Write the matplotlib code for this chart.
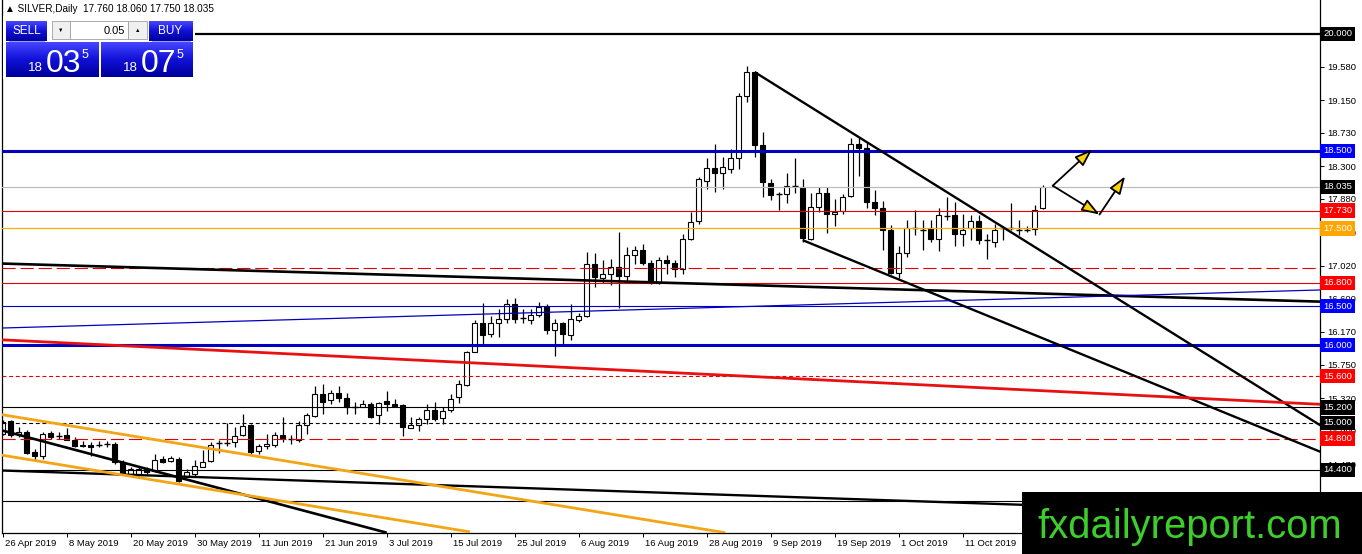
import numpy as np
import matplotlib.pyplot as plt
from matplotlib.colors import LinearSegmentedColormap
from matplotlib.patches import Rectangle
import matplotlib.transforms as mtransforms
from matplotlib import font_manager

plt.rcParams['font.family'] = ['Liberation Sans', 'DejaVu Sans']
plt.rcParams['lines.scale_dashes'] = False

# --- daily OHLC (bar 0 = 26 Apr 2019) ---
opens = [14.86, 15.02, 14.86, 14.89, 14.625, 14.57, 14.87, 14.83, 14.85, 14.78,
         14.70, 14.72, 14.72, 14.73, 14.73, 14.50, 14.34, 14.35, 14.41, 14.38,
         14.54, 14.51, 14.54, 14.31, 14.35, 14.44, 14.51, 14.745, 14.745, 14.76,
         14.84, 14.97, 14.64, 14.70, 14.72, 14.85, 14.80, 14.78, 14.97, 15.09,
         15.37, 15.29, 15.39, 15.32, 15.20, 15.21, 15.25, 15.10, 15.28, 15.25,
         15.225, 14.94, 14.97, 15.05, 15.17, 15.07, 15.17, 15.33, 15.49, 15.91,
         16.29, 16.15, 16.29, 16.34, 16.53, 16.35, 16.33, 16.39, 16.50, 16.20,
         16.28, 16.13, 16.33, 16.37, 17.05, 16.87, 16.92, 17.00, 16.89, 17.16,
         17.23, 17.06, 16.80, 17.10, 17.06, 16.98, 17.37, 17.59, 18.11, 18.28,
         18.21, 18.27, 18.41, 19.20, 19.51, 18.57, 18.09, 17.94, 17.94, 18.04,
         18.03, 17.37, 17.78, 17.95, 17.68, 17.72, 17.915, 18.58, 18.54, 17.84,
         17.76, 17.48, 16.93, 17.18, 17.50, 17.48, 17.50, 17.37, 17.66, 17.67,
         17.43, 17.50, 17.59, 17.35, 17.33, 17.50, 17.50, 17.48, 17.48, 17.49,
         17.76]
highs = [15.04, 15.04, 14.95, 14.91, 14.67, 14.88, 14.90, 14.88, 14.93, 14.82,
         14.77, 14.75, 14.77, 14.77, 14.75, 14.52, 14.43, 14.43, 14.43, 14.60,
         14.57, 14.58, 14.56, 14.41, 14.52, 14.65, 14.75, 14.78, 15.00, 14.95,
         15.11, 14.99, 14.73, 14.86, 14.88, 15.08, 14.84, 15.03, 15.13, 15.48,
         15.50, 15.42, 15.47, 15.38, 15.27, 15.30, 15.27, 15.27, 15.41, 15.31,
         15.25, 15.08, 15.08, 15.25, 15.27, 15.20, 15.37, 15.55, 15.93, 16.32,
         16.54, 16.38, 16.47, 16.60, 16.61, 16.47, 16.47, 16.56, 16.53, 16.34,
         16.30, 16.53, 16.41, 17.20, 17.18, 17.09, 17.11, 17.46, 17.26, 17.28,
         17.30, 17.09, 17.14, 17.16, 17.09, 17.43, 17.71, 18.16, 18.40, 18.59,
         18.42, 18.52, 19.24, 19.59, 19.52, 18.74, 18.14, 17.97, 18.21, 18.41,
         18.14, 17.95, 18.03, 18.03, 17.88, 17.94, 18.66, 18.68, 18.61, 17.99,
         17.85, 17.54, 17.27, 17.61, 17.74, 17.61, 17.61, 17.76, 17.90, 17.84,
         17.69, 17.67, 17.67, 17.43, 17.56, 17.53, 17.83, 17.61, 17.53, 17.80,
         18.06]
lows = [14.84, 14.82, 14.82, 14.60, 14.52, 14.54, 14.80, 14.80, 14.775, 14.69,
        14.69, 14.58, 14.69, 14.69, 14.475, 14.34, 14.325, 14.325, 14.35, 14.37,
        14.48, 14.50, 14.24, 14.30, 14.325, 14.43, 14.50, 14.62, 14.71, 14.69,
        14.83, 14.60, 14.60, 14.67, 14.69, 14.75, 14.73, 14.75, 14.86, 15.08,
        15.12, 15.25, 15.27, 15.12, 15.12, 15.20, 15.07, 14.99, 15.15, 15.20,
        14.83, 14.93, 14.90, 14.99, 15.03, 14.99, 15.14, 15.26, 15.48, 15.91,
        16.00, 16.11, 16.11, 16.28, 16.28, 16.28, 16.27, 16.36, 16.15, 15.86,
        16.00, 16.07, 16.30, 16.36, 16.75, 16.80, 16.77, 16.48, 16.81, 17.05,
        17.03, 16.79, 16.79, 16.92, 16.88, 16.92, 17.35, 17.56, 18.01, 17.97,
        18.01, 18.21, 18.27, 19.13, 18.42, 17.91, 17.86, 17.74, 17.83, 17.96,
        17.33, 17.35, 17.71, 17.44, 17.53, 17.69, 17.90, 18.17, 17.76, 17.67,
        17.22, 16.92, 16.86, 17.13, 17.41, 17.23, 17.33, 17.21, 17.61, 17.27,
        17.27, 17.35, 17.30, 17.11, 17.26, 17.35, 17.48, 17.41, 17.46, 17.41,
        17.75]
closes = [15.01, 14.84, 14.88, 14.62, 14.57, 14.86, 14.82, 14.83, 14.78, 14.70,
          14.72, 14.69, 14.72, 14.73, 14.50, 14.35, 14.41, 14.41, 14.37, 14.53,
          14.50, 14.55, 14.26, 14.37, 14.45, 14.50, 14.72, 14.745, 14.745, 14.83,
          14.96, 14.63, 14.70, 14.73, 14.85, 14.81, 14.80, 14.97, 15.10, 15.37,
          15.27, 15.38, 15.32, 15.21, 15.20, 15.25, 15.08, 15.26, 15.25, 15.22,
          14.95, 14.97, 15.05, 15.17, 15.05, 15.16, 15.31, 15.50, 15.91, 16.29,
          16.13, 16.29, 16.34, 16.53, 16.34, 16.35, 16.39, 16.49, 16.19, 16.28,
          16.15, 16.34, 16.375, 17.05, 16.88, 16.92, 17.00, 16.89, 17.16, 17.22,
          17.06, 16.80, 17.10, 17.06, 16.98, 17.36, 17.58, 18.13, 18.28, 18.21,
          18.29, 18.41, 19.20, 19.51, 18.57, 18.10, 17.93, 17.94, 18.05, 18.04,
          17.38, 17.78, 17.95, 17.68, 17.71, 17.90, 18.58, 18.54, 17.84, 17.76,
          17.48, 16.93, 17.18, 17.50, 17.50, 17.48, 17.37, 17.67, 17.66, 17.43,
          17.48, 17.59, 17.35, 17.35, 17.48, 17.50, 17.50, 17.48, 17.48, 17.74,
          18.035]

date_labels = ['26 Apr 2019', '8 May 2019', '20 May 2019', '30 May 2019', '11 Jun 2019',
               '21 Jun 2019', '3 Jul 2019', '15 Jul 2019', '25 Jul 2019', '6 Aug 2019',
               '16 Aug 2019', '28 Aug 2019', '9 Sep 2019', '19 Sep 2019', '1 Oct 2019',
               '11 Oct 2019']
bars_per_label = 8

price_ticks = [20.0, 19.58, 19.15, 18.73, 18.30, 17.88, 17.45, 17.02, 16.60, 16.17,
               15.75, 15.32, 14.90, 14.47, 14.05]

# horizontal levels
level_prices = [20.0, 18.5, 18.035, 17.73, 17.5, 16.99, 16.8, 16.5, 16.0, 15.6,
                15.2, 15.0, 14.8, 14.4, 14.0]
level_boxed = [True, True, True, True, True, False, True, True, True, True,
               True, True, True, True, False]

# trend lines: (bar, price) -> (bar, price)
trend_lines = [
    ((94.0, 19.51), (164.7, 14.97)),
    ((100.0, 17.35), (164.7, 14.63)),
    ((-0.3, 17.05), (164.7, 16.56)),
    ((-0.3, 16.22), (164.7, 16.71)),
    ((-0.3, 16.07), (164.7, 15.24)),
    ((-0.3, 14.39), (164.7, 13.82)),
    ((-0.3, 14.91), (48.0, 13.59)),
    ((-0.3, 15.11), (90.3, 13.59)),
    ((-0.3, 14.59), (58.4, 13.60)),
]

# projection arrows (bar, price)
arrow_start = (131.25, 18.05)
arrow_tip_up = (136.2, 18.52)
arrow_vertex = (137.1, 17.68)
arrow_tip_2 = (140.3, 18.17)

W, H = 1362, 554
fig = plt.figure(figsize=(W / 100, H / 100), dpi=100)
fig.patch.set_facecolor('white')

ax = fig.add_axes([2 / W, 21 / H, 1318 / W, 533 / H])
ax.set_xlim(-0.09, 164.66)
ax.set_ylim(13.586, 20.437)

# candles
x = np.arange(len(opens))
o = np.array(opens); c = np.array(closes)
ax.vlines(x, lows, highs, color='black', lw=0.9, zorder=2)
up = c > o
down = c < o
flat = c == o
ax.bar(x[up], (c - o)[up], bottom=o[up], width=0.64, color='white',
       edgecolor='black', linewidth=0.8, zorder=2.1)
ax.bar(x[down], (o - c)[down], bottom=c[down], width=0.64, color='black',
       edgecolor='black', linewidth=0.8, zorder=2.1)
ax.hlines(c[flat], x[flat] - 0.35, x[flat] + 0.35, color='black', lw=1.0, zorder=2.1)

# level line styles
blue_line = '#0000c0'
red_line = '#e00000'
level_style = [
    dict(color='black', lw=1.6),
    dict(color=blue_line, lw=2.2),
    dict(color='#bdbdbd', lw=0.9),
    dict(color=red_line, lw=0.8),
    dict(color='#f0b000', lw=0.9),
    dict(color=red_line, lw=0.8, dashes=(9.5, 3.5)),
    dict(color=red_line, lw=0.8),
    dict(color=blue_line, lw=0.8),
    dict(color=blue_line, lw=2.2),
    dict(color=red_line, lw=0.8, dashes=(2.8, 2.0)),
    dict(color='black', lw=0.8),
    dict(color='black', lw=0.8, dashes=(2.8, 2.0)),
    dict(color=red_line, lw=0.8, dashes=(9.5, 3.5)),
    dict(color='black', lw=0.8),
    dict(color='black', lw=0.8),
]
box_colors = ['black', '#0000ff', 'black', '#ff0000', '#ffa500', None, '#ff0000',
              '#0000ff', '#0000ff', '#ff0000', 'black', 'black', '#ff0000', 'black', None]

for p, st in zip(level_prices, level_style):
    ax.axhline(p, zorder=3, **st)

trend_style = [
    dict(color='black', lw=1.7),
    dict(color='black', lw=1.7),
    dict(color='black', lw=1.9),
    dict(color=blue_line, lw=0.9),
    dict(color='#e81010', lw=2.0),
    dict(color='black', lw=1.7),
    dict(color='black', lw=1.9),
    dict(color='#f2a515', lw=2.0),
    dict(color='#f2a515', lw=2.0),
]
for (a, b), st in zip(trend_lines, trend_style):
    ax.plot([a[0], b[0]], [a[1], b[1]], zorder=3, solid_capstyle='butt', **st)

# arrows
arrow_kw = dict(arrowstyle='-|>,head_length=0.9,head_width=0.32', fc='#ffd400',
                ec='black', lw=1.3, shrinkA=0, shrinkB=0, mutation_scale=12)
ax.annotate('', xy=arrow_tip_up, xytext=arrow_start, arrowprops=arrow_kw, zorder=4)
ax.annotate('', xy=arrow_vertex, xytext=arrow_start, arrowprops=arrow_kw, zorder=4)
ax.annotate('', xy=arrow_tip_2, xytext=arrow_vertex, arrowprops=arrow_kw, zorder=4)

# axes cosmetics
ax.spines['top'].set_visible(False)
for s in ['left', 'right', 'bottom']:
    ax.spines[s].set_linewidth(0.9)
    ax.spines[s].set_color('black')
ax.yaxis.tick_right()
ax.set_yticks(price_ticks)
# the 20.000 level is shown by its own price box
ax.set_yticklabels(['' if v == 20.0 else '%.3f' % v for v in price_ticks])
ax.tick_params(axis='y', direction='out', length=3, width=0.7, labelsize=6.8, pad=2)
ax.set_xticks(np.arange(len(date_labels)) * bars_per_label)
ax.set_xticklabels(date_labels, ha='left')
ax.tick_params(axis='x', direction='out', length=3, width=0.7, labelsize=6.8, pad=1.5)
shift = mtransforms.ScaledTranslation(2 / 100, 0, fig.dpi_scale_trans)
for lbl in ax.get_xticklabels():
    lbl.set_transform(lbl.get_transform() + shift)

# price boxes on the right axis
for p, boxed, bc in zip(level_prices, level_boxed, box_colors):
    if boxed:
        ax.annotate('%.3f' % p, xy=(1, p), xycoords=('axes fraction', 'data'),
                    xytext=(3, 0), textcoords='offset pixels', ha='left', va='center',
                    fontsize=6.8, color='white', zorder=10, annotation_clip=False,
                    bbox=dict(boxstyle='square,pad=0.28', fc=bc, ec='none'))

# overlay in pixel coordinates: header, trade panel, banner
ov = fig.add_axes([0, 0, 1, 1], zorder=20)
ov.axis('off')

ov.text(5, 9, '\u25b2 SILVER,Daily  17.760 18.060 17.750 18.035', fontsize=7.2,
        va='center', ha='left', color='black')

ov.add_patch(Rectangle((3, 16), 192, 63, fc='white', ec='none'))
blue_cmap = LinearSegmentedColormap.from_list('btn', ['#4646ff', '#1010d8', '#00009c'])
grad = np.linspace(0, 1, 40).reshape(-1, 1)


def grad_box(x0, y0, w, h):
    ov.imshow(grad, extent=(x0, x0 + w, y0 + h, y0), cmap=blue_cmap, aspect='auto',
              interpolation='bilinear', zorder=2)


grad_box(6, 21, 41, 20)
grad_box(149, 21, 44, 20)
grad_box(6, 42, 93, 35)
grad_box(101, 42, 92, 35)
ov.plot([9, 44], [40.5, 40.5], color='#8c8cff', lw=0.6, zorder=3)
ov.plot([152, 190], [40.5, 40.5], color='#8c8cff', lw=0.6, zorder=3)

ov.add_patch(Rectangle((52, 21), 18, 18, fc='#f0f0f0', ec='#a0a0a0', lw=0.6, zorder=2))
ov.add_patch(Rectangle((70, 21), 58, 18, fc='white', ec='#a0a0a0', lw=0.6, zorder=2))
ov.add_patch(Rectangle((128, 21), 19, 18, fc='#f0f0f0', ec='#a0a0a0', lw=0.6, zorder=2))
ov.text(61, 30, '\u25bc', fontsize=4, ha='center', va='center', color='black', zorder=4)
ov.text(137.5, 30, '\u25b2', fontsize=4, ha='center', va='center', color='black', zorder=4)
ov.text(125, 30.5, '0.05', fontsize=8, ha='right', va='center', color='black', zorder=4)
ov.text(26.5, 31, 'SELL', fontsize=8.5, ha='center', va='center', color='white', zorder=4)
ov.text(170, 31, 'BUY', fontsize=8.5, ha='center', va='center', color='white', zorder=4)

for x0, big in [(28, '03'), (123, '07')]:
    ov.text(x0, 71, '18', fontsize=9.5, ha='left', va='baseline', color='white', zorder=4)
    ov.text(x0 + 18, 72, big, fontsize=23, ha='left', va='baseline', color='white', zorder=4)
    ov.text(x0 + 54, 58, '5', fontsize=9, ha='left', va='baseline', color='white', zorder=4)

# banner
ov.add_patch(Rectangle((1022, 492), 340, 62, fc='black', ec='none', zorder=5))
names = {f.name for f in font_manager.fontManager.ttflist}
banner_family = 'Liberation Sans Narrow' if 'Liberation Sans Narrow' in names else 'Liberation Sans'
bt = ov.text(1037, 538, 'fxdailyreport.com', fontsize=32, family=banner_family,
             color='#3ccf2a', ha='left', va='baseline', zorder=6)
ov.set_xlim(0, W)
ov.set_ylim(H, 0)

fig.canvas.draw()
bw = bt.get_window_extent().width
bt.set_fontsize(32 * 305 / bw)

fig.savefig('out.png', dpi=100, facecolor='white')
